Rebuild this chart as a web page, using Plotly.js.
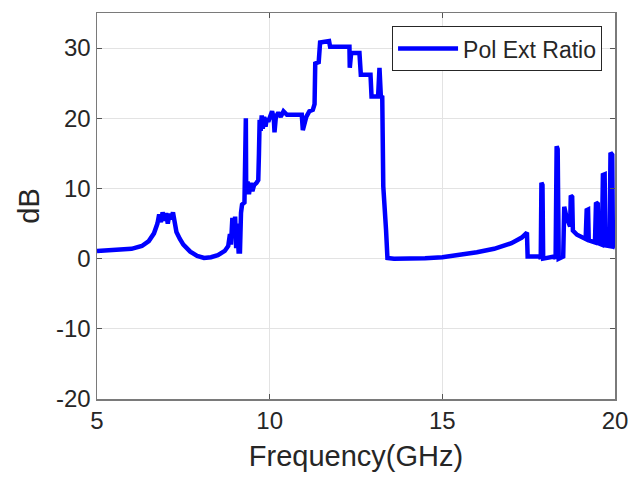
<!DOCTYPE html>
<html>
<head>
<meta charset="utf-8">
<script src="https://cdn.plot.ly/plotly-3.0.1.min.js"></script>
<style>html,body{margin:0;padding:0;background:#fff;}#chart{width:632px;height:478px;}</style>
</head>
<body>
<div id="chart"></div>
<script>
const seriesName = "Pol Ext Ratio";
const freqGHz = [
  5.0, 5.5, 6.0, 6.3, 6.5, 6.65, 6.75, 6.8, 6.85, 6.9,
  6.95, 7.0, 7.05, 7.1, 7.15, 7.2, 7.25, 7.3, 7.4, 7.5,
  7.7, 7.9, 8.1, 8.3, 8.5, 8.7, 8.8, 8.85, 8.88, 8.92,
  8.96, 9.0, 9.03, 9.06, 9.1, 9.14, 9.17, 9.2, 9.27, 9.28,
  9.31, 9.32, 9.36, 9.4, 9.45, 9.5, 9.55, 9.62, 9.67, 9.69,
  9.71, 9.74, 9.77, 9.8, 9.84, 9.88, 9.92, 9.96, 10.02, 10.07,
  10.12, 10.14, 10.18, 10.25, 10.32, 10.4, 10.5, 10.93, 10.96, 10.99,
  11.06, 11.15, 11.25, 11.3, 11.32, 11.42, 11.46, 11.72, 11.75, 12.31,
  12.32, 12.36, 12.6, 12.64, 12.92, 12.95, 13.14, 13.18, 13.22, 13.26,
  13.27, 13.29, 13.37, 13.41, 13.6, 14.0, 14.5, 15.0, 15.5, 16.0,
  16.5, 17.0, 17.3, 17.45, 17.47, 17.82, 17.85, 17.87, 17.9, 17.92,
  18.24, 18.28, 18.31, 18.34, 18.37, 18.5, 18.53, 18.56, 18.6, 18.7,
  18.72, 18.76, 18.78, 18.9, 19.0, 19.15, 19.18, 19.22, 19.24, 19.42,
  19.45, 19.5, 19.52, 19.62, 19.65, 19.7, 19.72, 19.84, 19.87, 19.92,
  19.94, 20.0
];
const ratioDB = [
  1.1, 1.2, 1.4, 1.8, 2.5, 3.6, 5.0, 6.3, 5.2, 6.6,
  5.4, 6.5, 5.0, 6.4, 5.6, 6.6, 4.6, 3.8, 2.8, 2.0,
  1.0, 0.4, 0.1, 0.2, 0.5, 1.1, 1.8, 3.5, 2.0, 5.8,
  3.0, 6.0, 1.5, 5.0, 1.0, 1.0, 6.5, 7.7, 8.0, 20.0,
  20.0, 9.8, 11.0, 9.2, 10.8, 9.6, 10.5, 10.8, 11.2, 15.0,
  19.8, 18.2, 20.4, 18.5, 20.2, 18.8, 20.0, 19.5, 20.5, 21.0,
  20.0, 18.0, 20.2, 20.8, 20.2, 21.0, 20.5, 20.5, 18.3, 19.0,
  20.2, 21.0, 21.2, 22.0, 27.8, 28.0, 30.8, 31.0, 30.2, 30.2,
  27.2, 29.3, 29.3, 26.2, 26.2, 23.1, 23.1, 27.2, 23.1, 23.0,
  19.8, 10.3, 4.1, 0.1, 0.0, 0.0, 0.05, 0.2, 0.5, 0.9,
  1.4, 2.2, 3.0, 3.7, 0.3, 0.3, 0.0, 10.8, 10.5, 0.0,
  0.3, 0.0, 16.0, 15.6, 0.0, 0.3, 7.4, 6.5, 5.8, 4.6,
  9.0, 8.8, 4.0, 3.4, 3.1, 2.8, 6.9, 7.0, 2.6, 2.3,
  8.0, 7.8, 2.2, 2.0, 11.9, 12.0, 1.9, 1.8, 15.1, 14.8,
  1.7, 1.6
];
const xTicks = [5, 10, 15, 20];
const yTicks = [-20, -10, 0, 10, 20, 30];

const font = "Liberation Sans, Arial, sans-serif";
const textColor = "#262626";

const trace = {
  x: freqGHz, y: ratioDB, type: "scatter", mode: "lines", name: seriesName,
  line: {color: "#0000ff", width: 4.5}
};
const axisCommon = {
  showline: true, mirror: "ticks", linecolor: "#7a7a7a", linewidth: 1.5,
  ticks: "inside", ticklen: 5, tickcolor: "#555", tickwidth: 1,
  showgrid: true, gridcolor: "#e3e3e3", gridwidth: 1, zeroline: false,
  tickfont: {family: font, size: 24, color: textColor}
};
const layout = {
  width: 632, height: 478,
  margin: {l: 97, r: 17, t: 13, b: 79},
  paper_bgcolor: "#fff", plot_bgcolor: "#fff",
  showlegend: true,
  legend: {
    x: 0.975, y: 0.966, xanchor: "right", yanchor: "top",
    bgcolor: "#fff", bordercolor: "#262626", borderwidth: 1,
    itemwidth: 60,
    font: {family: font, size: 23, color: textColor}
  },
  xaxis: Object.assign({}, axisCommon, {
    range: [5, 20], tickvals: xTicks, ticktext: xTicks.map(String),
    title: {text: "Frequency(GHz)", font: {family: font, size: 29, color: textColor}, standoff: 12}
  }),
  yaxis: Object.assign({}, axisCommon, {
    range: [-20, 35], tickvals: yTicks, ticktext: yTicks.map(String),
    title: {text: "dB", font: {family: font, size: 29, color: textColor}, standoff: 8}
  })
};
Plotly.newPlot("chart", [trace], layout, {displayModeBar: false, staticPlot: true});
</script>
</body>
</html>
